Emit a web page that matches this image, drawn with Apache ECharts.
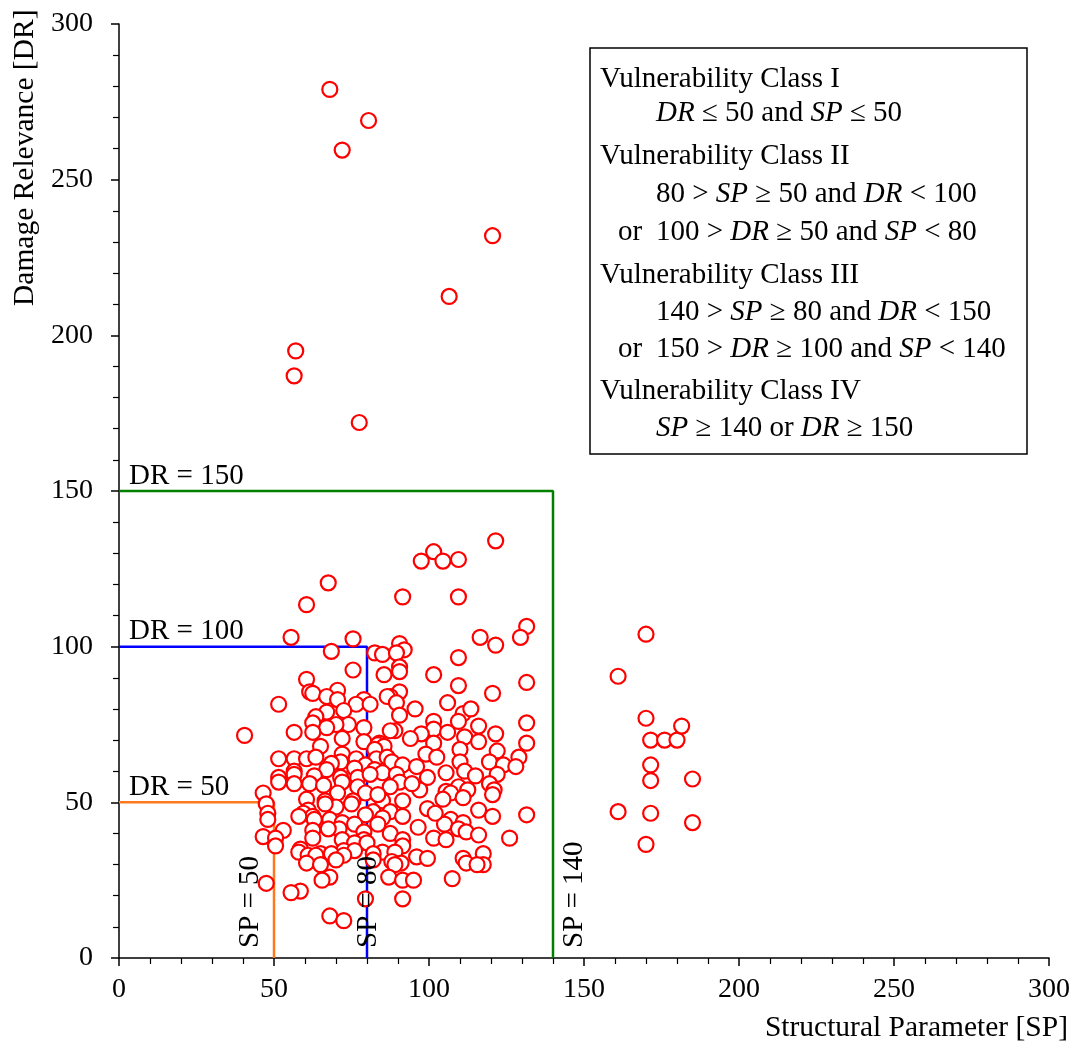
<!DOCTYPE html>
<html>
<head>
<meta charset="utf-8">
<script src="https://cdn.jsdelivr.net/npm/echarts@6/dist/echarts.min.js"></script>
<style>
html, body { margin: 0; padding: 0; background: #fff; }
#chart { width: 1077px; height: 1050px; }
</style>
</head>
<body>
<div id="chart"></div>
<script>
// axis range and ticks
var axisMin = 0, axisMax = 300, axisStep = 50;

// class limits (SP limit, DR limit)
var limitSP = [50, 80, 140];
var limitDR = [50, 100, 150];

// points [SP, DR]
var outliers = [
  [68, 279], [80.5, 269], [72, 259.5], [120.5, 232], [106.5, 212.5],
  [57, 195], [56.5, 187], [77.5, 172]
];
var rightGroup = [
  [170, 104], [161, 90.5], [170, 77], [171.5, 70], [176, 70], [180, 70],
  [181.5, 74.5], [171.5, 62], [171.5, 57], [185, 57.5], [161, 47],
  [171.5, 46.5], [185, 43.5], [170, 36.5]
];
var clusterTop = [
  [121.5, 134], [101.5, 130.5], [97.5, 127.5], [104.5, 127.5], [109.5, 128],
  [67.5, 120.5], [91.5, 116], [109.5, 116], [60.5, 113.5], [131.5, 106.5],
  [129.5, 103], [116.5, 103], [55.5, 103], [75.5, 102.5], [121.5, 100.5],
  [90.5, 101], [92, 99], [68.5, 98.5], [82.5, 98], [85, 97.5], [89.5, 98],
  [109.5, 96.5]
];
var clusterUpper = [
  [90.5, 93.5], [75.5, 92.5], [85.5, 91], [90.5, 92], [101.5, 91], [60.5, 89.5],
  [131.5, 88.5], [109.5, 87.5], [70.5, 86], [61.5, 85.5], [62.5, 85], [120.5, 85],
  [90.5, 85.5], [87.5, 84], [67, 84], [86.5, 84], [70.5, 83], [79, 83],
  [89.5, 82], [106, 82], [76.5, 81.5], [81, 81.5], [51.5, 81.5], [95.5, 80],
  [72.5, 79.5], [67, 79], [111, 78.5], [90.5, 78], [63.5, 77.5], [109.5, 76],
  [101.5, 76], [131.5, 75.5], [62.5, 75.5], [74, 75], [70, 75], [116, 74.5],
  [67, 74], [79, 74], [101.5, 73.5], [89, 73], [87.5, 73], [56.5, 72.5],
  [62.5, 72.5], [97.5, 72], [121.5, 72], [40.5, 71.5], [111.5, 71], [72, 70.5],
  [79, 69.5], [116, 69.5], [131.5, 69], [101.5, 69], [84, 69], [83.5, 68.5],
  [85.5, 68], [82.5, 67], [110, 67], [122, 66.5], [99, 65.5], [72, 65.5],
  [65, 68], [94, 70.5], [106, 72.5], [113.5, 80]
];
var clusterMid = [
  [51.5, 64], [56.5, 64], [60.5, 64], [63.5, 64.5], [71.5, 63], [76.5, 64],
  [83, 64], [86.5, 64.5], [79.5, 62], [68.5, 62.5], [88, 63], [91.5, 62],
  [96, 61.5], [102.5, 64.5], [110, 63], [119.5, 63], [124, 62], [129, 64.5],
  [128, 61.5], [82.5, 60.5], [67, 60.5], [76, 61], [56.5, 60], [85, 59.5],
  [105.5, 59.5], [111.5, 60], [63, 58.5], [71.5, 58], [77, 58], [81, 59],
  [89.5, 59], [122, 59], [51.5, 58], [56.5, 59], [99.5, 58], [90.5, 56.5],
  [119.5, 56], [72, 56.5], [56.5, 56], [51.5, 56.5], [61.5, 56], [87.5, 55],
  [77, 55], [109.5, 55], [97, 54], [112.5, 54], [121, 54], [105.5, 53.5],
  [107, 53], [46.5, 53], [70.5, 53], [79.5, 53], [120.5, 52.5], [111, 51.5],
  [104.5, 51], [60.5, 51], [91.5, 50.5], [85, 50.5], [66.5, 50.5], [75.5, 50.5],
  [94.5, 56], [115, 58.5], [66, 55.5], [83.5, 52.5]
];
var clusterLow = [
  [47.5, 49.5], [70, 48.5], [66.5, 49.5], [75, 49.5], [99.5, 48], [116, 47.5],
  [61, 47.5], [59.5, 46.5], [48, 46.5], [82, 47], [87.5, 47], [131.5, 46],
  [79.5, 46], [62.5, 45.5], [58, 45.5], [91.5, 45.5], [120.5, 45.5], [85, 45],
  [48, 44.5], [68, 44.5], [63, 44.5], [107, 44.5], [72, 43.5], [111, 43.5],
  [76, 43], [83.5, 43], [105, 43], [71, 41.5], [67.5, 41.5], [62.5, 41],
  [53, 41], [109.5, 41.5], [112, 40.5], [79, 40.5], [87.5, 40], [116, 39.5],
  [46.5, 39], [50.5, 38.5], [62.5, 38.5], [126, 38.5], [101.5, 38.5], [105.5, 38],
  [91.5, 38], [79, 38], [72, 38], [76, 37], [80, 37], [50.5, 36], [91.5, 36],
  [58.5, 35], [72.5, 34.5], [76, 34.5], [58, 34], [85, 34], [89, 34], [65, 33.5],
  [68.5, 33.5], [82, 33.5], [117.5, 33.5], [61, 33], [63.5, 33], [72.5, 33],
  [96, 32.5], [99.5, 32], [111, 32], [70, 31.5], [82, 31.5], [88, 31],
  [60.5, 30.5], [91, 30.5], [112, 30.5], [117.5, 30], [65, 30], [89, 30],
  [115.5, 30], [68, 26], [87, 26], [91.5, 25], [95, 25], [107.5, 25.5],
  [65.5, 25], [47.5, 24], [58.5, 21.5], [55.5, 21], [79.5, 19], [91.5, 19],
  [68, 13.5], [72.5, 12], [96.5, 42], [102, 46.5]
];

var legendLines = [
  { text: 'Vulnerability Class I', indent: 0 },
  { text: '{i|DR} ≤ 50 and {i|SP} ≤ 50', indent: 1 },
  { text: 'Vulnerability Class II', indent: 0 },
  { text: '80 > {i|SP} ≥ 50 and {i|DR} < 100', indent: 1 },
  { text: '100 > {i|DR} ≥ 50 and {i|SP} < 80', indent: 1, or: true },
  { text: 'Vulnerability Class III', indent: 0 },
  { text: '140 > {i|SP} ≥ 80 and {i|DR} < 150', indent: 1 },
  { text: '150 > {i|DR} ≥ 100 and {i|SP} < 140', indent: 1, or: true },
  { text: 'Vulnerability Class IV', indent: 0 },
  { text: '{i|SP} ≥ 140 or {i|DR} ≥ 150', indent: 1 }
];
var legendY = [79, 113, 156, 194, 232, 275, 312, 349, 391, 428];

var FONT = '"Liberation Serif", "Times New Roman", serif';
var FS = 28;    // tick labels
var FS2 = 29;   // other texts
var limitColors = ['#ff7a1e', '#0000ff', '#008000'];

var allPoints = [].concat(outliers, rightGroup, clusterTop, clusterUpper, clusterMid, clusterLow);

var chart = echarts.init(document.getElementById('chart'));

var limitSeries = limitSP.map(function (sp, i) {
  return {
    type: 'line',
    data: [[0, limitDR[i]], [sp, limitDR[i]], [sp, 0]],
    symbol: 'none',
    lineStyle: { color: limitColors[i], width: 2.5 },
    z: 1,
    silent: true
  };
});

function axisCommon() {
  return {
    type: 'value',
    min: axisMin,
    max: axisMax,
    interval: axisStep,
    axisLine: { show: true, lineStyle: { color: '#000', width: 1.5 } },
    axisTick: { show: true, length: 8, lineStyle: { color: '#000', width: 1.5 } },
    minorTick: { show: true, splitNumber: 5, length: 6, lineStyle: { color: '#000', width: 1.2 } },
    splitLine: { show: false },
    minorSplitLine: { show: false },
    axisLabel: { color: '#000', fontSize: FS, fontFamily: FONT }
  };
}

var xAxis = axisCommon();
xAxis.axisLabel.margin = 18;
var yAxis = axisCommon();
yAxis.axisLabel.margin = 26;

option = {
  animation: false,
  backgroundColor: '#fff',
  grid: { left: 119, right: 28, top: 24, bottom: 92 },
  xAxis: xAxis,
  yAxis: yAxis,
  series: limitSeries.concat([{
    type: 'scatter',
    data: allPoints,
    symbol: 'circle',
    symbolSize: 15,
    itemStyle: { color: '#fff', borderColor: '#ff0000', borderWidth: 2.2, opacity: 1 },
    z: 3
  }])
};
chart.setOption(option);

// texts placed from the axes' own scale
var rich = { i: { fontStyle: 'italic', fontFamily: FONT, fontSize: FS2, fill: '#000' } };
function txt(s, x, y, extra) {
  var st = { text: s, x: 0, y: 0, fontSize: FS2, fontFamily: FONT, fill: '#000',
    align: 'left', verticalAlign: 'middle', rich: rich };
  var el = { type: 'text', x: x, y: y, z: 10, style: st };
  if (extra) {
    if (extra.align) st.align = extra.align;
    if (extra.rotation) el.rotation = extra.rotation;
    if (extra.size) st.fontSize = extra.size;
  }
  return el;
}

var graphics = [];
graphics.push({
  type: 'rect', shape: { x: 590, y: 48, width: 437, height: 406 },
  style: { fill: '#fff', stroke: '#000', lineWidth: 1.5 }, z: 5
});
legendLines.forEach(function (ln, i) {
  graphics.push(txt(ln.text, ln.indent ? 656 : 600, legendY[i]));
  if (ln.or) graphics.push(txt('or', 618, legendY[i]));
});

limitSP.forEach(function (sp, i) {
  var pH = chart.convertToPixel({ gridIndex: 0 }, [0, limitDR[i]]);
  graphics.push(txt('DR = ' + limitDR[i], pH[0] + 10, pH[1] - 15));
  var pV = chart.convertToPixel({ gridIndex: 0 }, [sp, 0]);
  var dx = [-24, 1, 21][i];
  graphics.push(txt('SP = ' + sp, pV[0] + dx, pV[1] - 10, { rotation: Math.PI / 2 }));
});

graphics.push(txt('Structural Parameter [SP]', 1068, 1028, { align: 'right', size: 29.5 }));
graphics.push(txt('Damage Relevance [DR]', 25, 306, { rotation: Math.PI / 2, size: 29.5 }));

chart.setOption({ graphic: graphics });
</script>
</body>
</html>
